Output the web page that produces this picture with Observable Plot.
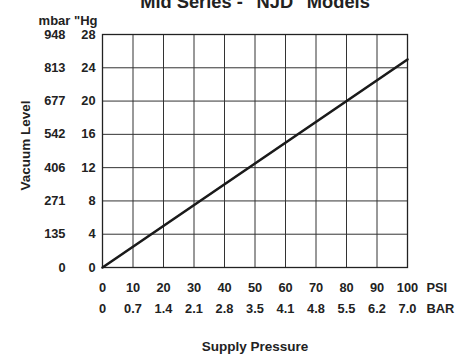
<!DOCTYPE html>
<html>
<head>
<meta charset="utf-8">
<script src="https://cdn.jsdelivr.net/npm/d3@7"></script>
<script src="https://cdn.jsdelivr.net/npm/@observablehq/plot@0.6"></script>
<style>
html,body{margin:0;padding:0;background:#fff;}
</style>
</head>
<body>
<div id="chart"></div>
<script>
const title = 'Mid Series - "NJD" Models';
const psiTicks = [0, 10, 20, 30, 40, 50, 60, 70, 80, 90, 100];
const barLabels = ["0", "0.7", "1.4", "2.1", "2.8", "3.5", "4.1", "4.8", "5.5", "6.2", "7.0"];
const hgTicks = [0, 4, 8, 12, 16, 20, 24, 28];
const mbarLabels = ["0", "135", "271", "406", "542", "677", "813", "948"];
const linePsi = [0, 100];
const lineHg = [0, 25];

const barMap = new Map(psiTicks.map((d, i) => [d, barLabels[i]]));
const mbarMap = new Map(hgTicks.map((d, i) => [d, mbarLabels[i]]));
const lineData = linePsi.map((p, i) => ({psi: p, hg: lineHg[i]}));

const font = "Liberation Sans, Arial, Helvetica, sans-serif";
const ink = "#222";

const chart = Plot.plot({
  width: 468,
  height: 354,
  marginLeft: 102,
  marginRight: 61,
  marginTop: 34,
  marginBottom: 87,
  style: {fontFamily: font, fontWeight: "bold", fontSize: "12.8px", color: ink, background: "#fff"},
  x: {domain: [0, 100]},
  y: {domain: [0, 28]},
  marks: [
    Plot.gridX(psiTicks, {stroke: "#333", strokeOpacity: 1, strokeWidth: 1}),
    Plot.gridY(hgTicks, {stroke: "#333", strokeOpacity: 1, strokeWidth: 1}),
    Plot.frame({stroke: "#222", strokeWidth: 1.3}),
    Plot.axisX(psiTicks, {tickSize: 0, tickPadding: 15, label: null, fontWeight: "bold", fill: ink}),
    Plot.axisX(psiTicks, {tickSize: 0, tickPadding: 36, label: null, tickFormat: d => barMap.get(d), fontWeight: "bold", fill: ink}),
    Plot.axisY(hgTicks, {tickSize: 0, tickPadding: 7, label: null, fontWeight: "bold", fill: ink}),
    Plot.axisY(hgTicks, {tickSize: 0, tickPadding: 37, label: null, tickFormat: d => mbarMap.get(d), fontWeight: "bold", fill: ink}),
    Plot.line(lineData, {x: "psi", y: "hg", stroke: "#1a1a1a", strokeWidth: 2.6}),
    Plot.text(["PSI"], {x: 100, y: 0, dx: 19, dy: 20, textAnchor: "start", fontWeight: "bold", fontSize: 12.8, fill: ink}),
    Plot.text(["BAR"], {x: 100, y: 0, dx: 19, dy: 41, textAnchor: "start", fontWeight: "bold", fontSize: 12.8, fill: ink}),
    Plot.text(["Supply Pressure"], {frameAnchor: "bottom", dy: 83, fontWeight: "bold", fontSize: 13.5, fill: ink}),
    Plot.text(['mbar "Hg'], {frameAnchor: "top-left", dx: -5, dy: -19, textAnchor: "end", fontWeight: "bold", fontSize: 13, fill: ink}),
    Plot.text(["Vacuum Level"], {frameAnchor: "left", textAnchor: "middle", dx: -77, dy: -5.5, rotate: -90, fontWeight: "bold", fontSize: 13.5, fill: ink}),
    Plot.text([title], {frameAnchor: "top", dy: -40, fontWeight: "bold", fontSize: 18.3, fill: ink})
  ]
});
document.getElementById("chart").appendChild(chart);
</script>
</body>
</html>
